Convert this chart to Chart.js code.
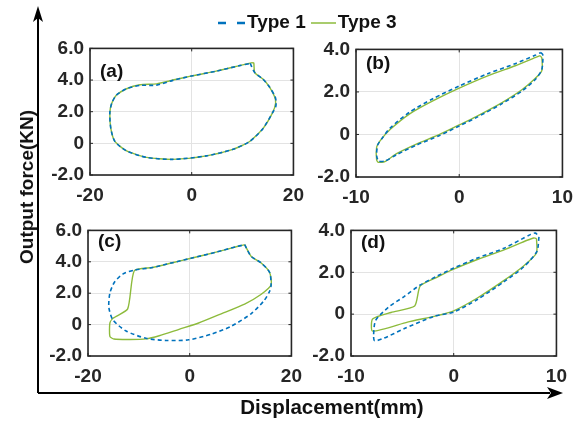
<!DOCTYPE html>
<html>
<head>
<meta charset="utf-8">
<script src="https://cdn.jsdelivr.net/npm/chart.js@4/dist/chart.umd.min.js"></script>
<style>
  body { margin: 0; background: #fff; }
  #wrap { position: relative; width: 585px; height: 422px; overflow: hidden; font-family: 'Liberation Sans', Arial, sans-serif; }
  #wrap canvas { position: absolute; }
  .lbl { position: absolute; font-weight: bold; color: #111; white-space: nowrap; }
  .lbl svg { vertical-align: middle; }
</style>
</head>
<body>
<div id="wrap">
  <canvas id="frame" width="585" height="422" style="left:0;top:0"></canvas>
  <canvas id="chart-a"></canvas>
  <canvas id="chart-b"></canvas>
  <canvas id="chart-c"></canvas>
  <canvas id="chart-d"></canvas>
  <div class="lbl" style="left:218px;top:12px;font-size:19px;line-height:20px">
    <svg width="27" height="10" style="margin-right:2px"><line x1="0" y1="5" x2="27" y2="5" stroke="#0072BD" stroke-width="2.4" stroke-dasharray="8,11"/></svg>Type 1<svg width="25" height="10" style="margin:0 2px 0 5px"><line x1="0" y1="5" x2="25" y2="5" stroke="#8DBB3C" stroke-width="1.5"/></svg>Type 3
  </div>
  <div class="lbl" style="left:332px;top:397px;font-size:20.5px;line-height:20px;transform:translateX(-50%)">Displacement(mm)</div>
  <div class="lbl" style="left:27px;top:187px;font-size:19px;line-height:20px;transform:translate(-50%,-50%) rotate(-90deg)">Output force(KN)</div>
</div>
<script>
// panel (a)
const aType1X = [11.5, 12.4, 14.0, 15.3, 16.4, 16.6, 16.5, 15.9, 14.0, 11.4, 8.1, 2.9, -3.7, -8.9, -12.8, -15.1, -15.9, -16.1, -15.7, -14.8, -12.8, -10.2, -6.9, -3.7, 0, 4.8, 9.4, 11.5];
const aType1Y = [5.05, 4.47, 4.06, 3.56, 2.95, 2.6, 2.3, 1.94, 0.93, 0.12, -0.38, -0.79, -1.01, -0.89, -0.48, 0.12, 0.93, 1.94, 2.55, 3.05, 3.45, 3.66, 3.68, 3.98, 4.26, 4.56, 4.91, 5.05];
const aType3X = [11.9, 12.2, 12.4, 14.0, 15.3, 16.3, 16.5, 15.9, 14.0, 11.4, 8.1, 2.9, -3.7, -8.9, -12.8, -15.1, -15.9, -16.1, -15.7, -14.8, -12.8, -10.2, -6.9, -3.7, 0, 4.8, 9.4, 11.9];
const aType3Y = [5.1, 5.08, 4.47, 4.06, 3.56, 2.95, 2.55, 1.94, 0.93, 0.12, -0.38, -0.79, -1.01, -0.89, -0.48, 0.12, 0.93, 1.94, 2.55, 3.05, 3.45, 3.70, 3.76, 4.0, 4.26, 4.56, 4.91, 5.1];
// panel (b)
const bType1X = [7.9, 8.1, 8.0, 7.4, 6.1, 4.15, 1.6, 0, -1.9, -4.15, -6.07, -7.2, -7.8, -8.0, -7.9, -7.5, -6.7, -4.8, -2.56, 0, 2.88, 5.43, 7.35, 7.9];
const bType1Y = [3.85, 3.75, 3.05, 2.6, 2.05, 1.45, 0.78, 0.4, -0.05, -0.5, -0.95, -1.25, -1.25, -1.0, -0.5, -0.2, 0.3, 1.05, 1.68, 2.28, 2.88, 3.33, 3.72, 3.85];
const bType3X = [7.83, 8.0, 8.0, 7.35, 6.07, 4.15, 1.6, 0, -1.9, -4.15, -6.07, -7.2, -7.83, -8.0, -8.0, -7.67, -6.7, -4.8, -2.56, 0, 2.88, 5.43, 7.35, 7.83];
const bType3Y = [3.71, 3.6, 3.0, 2.63, 2.1, 1.5, 0.83, 0.45, 0, -0.45, -0.9, -1.28, -1.31, -1.2, -0.6, -0.3, 0.23, 0.97, 1.58, 2.18, 2.78, 3.23, 3.61, 3.71];
// panel (c)
const cType1X = [10.8, 12.1, 14.0, 15.7, 16.0, 15.7, 14.6, 12.1, 8.2, 4.3, -0.2, -4.7, -8.6, -12.5, -15.1, -15.9, -15.7, -14.8, -13.1, -10.9, -7.3, -3.4, 0.45, 5.0, 9.5, 10.8];
const cType1Y = [5.09, 4.34, 3.94, 3.33, 2.52, 2.12, 1.52, 0.70, -0.1, -0.6, -0.97, -1.01, -0.87, -0.41, 0.3, 1.1, 2.0, 2.7, 3.23, 3.47, 3.64, 3.94, 4.24, 4.6, 4.99, 5.09];
const cType3X = [10.8, 12.1, 14.0, 15.7, 16.0, 14.0, 10.8, 6.3, 1.75, -2.1, -6.0, -8.6, -11.8, -14.9, -15.7, -15.7, -15.1, -12.2, -10.9, -7.3, -3.4, 0.45, 5.0, 9.5, 10.8];
const cType3Y = [5.09, 4.34, 3.94, 3.33, 2.52, 1.92, 1.31, 0.70, 0.1, -0.3, -0.71, -0.91, -0.95, -0.92, -0.75, 0.1, 0.4, 1.0, 3.43, 3.64, 3.94, 4.24, 4.6, 4.99, 5.09];
// panel (d)
const dType1X = [8.3, 8.1, 6.8, 4.9, 2.3, 0, -1.9, -4.8, -6.8, -7.7, -7.8, -7.6, -6.4, -4.8, -3.3, -1.6, 0, 2.3, 4.9, 7.5, 7.96, 8.3];
const dType1Y = [3.69, 3.0, 2.25, 1.55, 0.7, 0.1, -0.1, -0.69, -1.15, -1.27, -1.0, -0.3, 0.31, 0.85, 1.38, 1.82, 2.2, 2.68, 3.15, 3.81, 3.87, 3.69];
const dType3X = [8.06, 8.06, 6.8, 4.9, 2.3, 0, -1.6, -4.5, -7.9, -7.9, -6.1, -3.8, -3.27, -1.6, 0, 2.3, 4.9, 7.15, 7.8, 8.06];
const dType3Y = [3.61, 2.92, 2.3, 1.61, 0.77, 0.16, -0.07, -0.38, -0.81, -0.23, 0.08, 0.39, 1.34, 1.77, 2.15, 2.61, 3.07, 3.53, 3.64, 3.61];

const panelNames = ['(a)', '(b)', '(c)', '(d)'];
const xTicksWide = [-20, 0, 20];
const xTicksNarrow = [-10, 0, 10];
const yTicksTall = [-2, 0, 2, 4, 6];
const yTicksShort = [-2, 0, 2, 4];

const blue = '#0072BD';
const green = '#8DBB3C';
const ink = '#262626';
const tickFont = { family: "'Liberation Sans', Arial, sans-serif", size: 19, weight: 'bold' };

const toPoints = (xs, ys) => xs.map((x, i) => ({ x: x, y: ys[i] }));

// box around the plot, inward ticks and the (a)-(d) tag
const boxPlugin = {
    id: 'box',
    afterDatasetsDraw: (chart, args, opts) => {
        const { ctx, chartArea: a, scales } = chart
        ctx.save()
        ctx.strokeStyle = ink
        ctx.lineWidth = 1
        scales.x.ticks.forEach(t => {
            const px = scales.x.getPixelForValue(t.value)
            ctx.beginPath(); ctx.moveTo(px, a.bottom); ctx.lineTo(px, a.bottom - 3)
            ctx.moveTo(px, a.top); ctx.lineTo(px, a.top + 3); ctx.stroke()
        })
        scales.y.ticks.forEach(t => {
            const py = scales.y.getPixelForValue(t.value)
            ctx.beginPath(); ctx.moveTo(a.left, py); ctx.lineTo(a.left + 3, py)
            ctx.moveTo(a.right, py); ctx.lineTo(a.right - 3, py); ctx.stroke()
        })
        ctx.lineWidth = 1.6
        ctx.strokeRect(a.left, a.top, a.right - a.left, a.bottom - a.top)
        ctx.fillStyle = '#111'
        ctx.font = "bold 19px 'Liberation Sans', Arial, sans-serif"
        ctx.textBaseline = 'middle'
        ctx.fillText(opts.label, a.left + opts.dx, a.top + opts.dy)
        ctx.restore()
    }
}

function makePanel(id, rect, t1x, t1y, t3x, t3y, xTicks, yTicks, label, dy) {
    const yw = 62, xh = 34, pt = 12, pr = 18;
    const el = document.getElementById(id);
    const w = rect[2] - rect[0], h = rect[3] - rect[1];
    el.style.left = (rect[0] - yw) + 'px';
    el.style.top = (rect[1] - pt) + 'px';
    el.width = w + yw + pr;
    el.height = h + pt + xh;
    new Chart(el, {
        type: 'scatter',
        data: {
            datasets: [
                { label: 'Type 1', data: toPoints(t1x, t1y), showLine: true, borderColor: blue, borderWidth: 1.6, borderDash: [4, 3], pointRadius: 0, tension: 0.25, fill: false },
                { label: 'Type 3', data: toPoints(t3x, t3y), showLine: true, borderColor: green, borderWidth: 1.4, pointRadius: 0, tension: 0.2, fill: false }
            ]
        },
        options: {
            responsive: false,
            animation: false,
            events: [],
            layout: { padding: { top: pt, right: pr, left: 0, bottom: 0 } },
            plugins: {
                legend: { display: false },
                tooltip: { enabled: false },
                box: { label: label, dx: 10, dy: dy }
            },
            scales: {
                x: {
                    min: xTicks[0], max: xTicks[xTicks.length - 1],
                    afterBuildTicks: s => { s.ticks = xTicks.map(v => ({ value: v })) },
                    afterFit: s => { s.height = xh },
                    ticks: { color: ink, font: tickFont, padding: 9, maxRotation: 0, callback: v => String(v) },
                    grid: { color: '#e3e3e3', drawTicks: false },
                    border: { display: false }
                },
                y: {
                    min: yTicks[0], max: yTicks[yTicks.length - 1],
                    afterBuildTicks: s => { s.ticks = yTicks.map(v => ({ value: v })) },
                    afterFit: s => { s.width = yw },
                    ticks: { color: ink, font: tickFont, padding: 6, callback: v => v === 0 ? '0' : v.toFixed(1) },
                    grid: { color: '#e3e3e3', drawTicks: false },
                    border: { display: false }
                }
            }
        },
        plugins: [boxPlugin]
    })
}

makePanel('chart-a', [90, 43, 295, 175], aType1X, aType1Y, aType3X, aType3Y, xTicksWide, yTicksTall, panelNames[0], 23)
makePanel('chart-b', [356, 44, 564, 177], bType1X, bType1Y, bType3X, bType3Y, xTicksNarrow, yTicksShort, panelNames[1], 14)
makePanel('chart-c', [88, 225, 293, 356], cType1X, cType1Y, cType3X, cType3Y, xTicksWide, yTicksTall, panelNames[2], 11)
makePanel('chart-d', [351, 225, 558, 356], dType1X, dType1Y, dType3X, dType3Y, xTicksNarrow, yTicksShort, panelNames[3], 12)

// big arrows of the shared axes
const fctx = document.getElementById('frame').getContext('2d');
fctx.strokeStyle = '#000';
fctx.fillStyle = '#000';
fctx.lineWidth = 2;
fctx.beginPath(); fctx.moveTo(38, 393); fctx.lineTo(38, 16); fctx.stroke();
fctx.beginPath(); fctx.moveTo(38, 393); fctx.lineTo(550, 393); fctx.stroke();
fctx.beginPath(); fctx.moveTo(38, 6); fctx.lineTo(33, 22); fctx.lineTo(38, 18); fctx.lineTo(43, 22); fctx.closePath(); fctx.fill();
fctx.beginPath(); fctx.moveTo(563, 393); fctx.lineTo(547, 387); fctx.lineTo(551, 393); fctx.lineTo(547, 399); fctx.closePath(); fctx.fill();
</script>
</body>
</html>
